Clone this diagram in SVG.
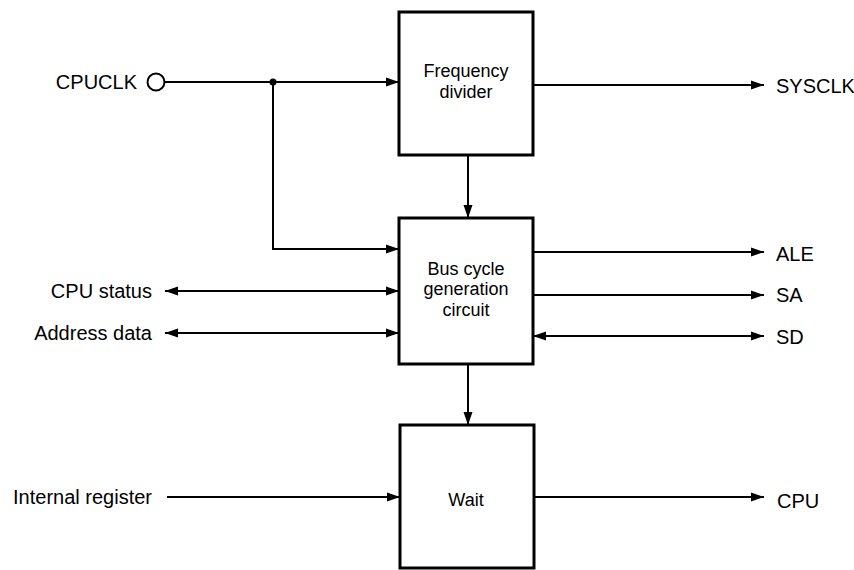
<svg xmlns="http://www.w3.org/2000/svg" width="854" height="570" viewBox="0 0 854 570">
<style>
.box{fill:#fff;stroke:#000;stroke-width:3}
.ln{fill:none;stroke:#000;stroke-width:2}
.a{marker-end:url(#ah)}
.b{marker-start:url(#ahs);marker-end:url(#ah)}
text{font-family:"Liberation Sans",Arial,sans-serif;font-size:20px;fill:#000}
.c{text-anchor:middle}
.s{font-size:18px}
.r{text-anchor:end}
</style>
<defs>
<marker id="ah" markerUnits="userSpaceOnUse" markerWidth="14" markerHeight="10" refX="13" refY="5" orient="auto">
<path d="M0,0.5 L13,5 L0,9.5 Z" fill="#000"/>
</marker>
<marker id="ahs" markerUnits="userSpaceOnUse" markerWidth="14" markerHeight="10" refX="0" refY="5" orient="auto">
<path d="M13,0.5 L0,5 L13,9.5 Z" fill="#000"/>
</marker>
</defs>
<rect width="854" height="570" fill="#fff"/>
<g id="connectors">
<path class="ln a" d="M164,82 H399"/>
<circle cx="273" cy="82" r="3.5" fill="#000"/>
<path class="ln a" d="M273,82 V249 H399"/>
<path class="ln a" d="M533,85 H764"/>
<path class="ln a" d="M468,155 V218"/>
<path class="ln a" d="M533,252 H764"/>
<path class="ln a" d="M533,295 H764"/>
<path class="ln b" d="M533,336 H764"/>
<path class="ln b" d="M165,291 H399"/>
<path class="ln b" d="M165,333 H399"/>
<path class="ln a" d="M468,364 V425"/>
<path class="ln a" d="M167,497 H400"/>
<path class="ln a" d="M534,497 H764"/>
</g>
<g id="cpuclk">
<circle cx="156" cy="82" r="8.5" fill="#fff" stroke="#000" stroke-width="2"/>
<text x="137" y="89" class="r">CPUCLK</text>
</g>
<g id="freq-divider">
<rect class="box" x="399" y="12" width="134" height="143"/>
<text x="466" y="77" class="c s">Frequency</text>
<text x="466" y="97.5" class="c s">divider</text>
</g>
<g id="bus-cycle">
<rect class="box" x="399" y="218" width="134" height="146"/>
<text x="466" y="275" class="c s">Bus cycle</text>
<text x="466" y="295.3" class="c s">generation</text>
<text x="466" y="315.6" class="c s">circuit</text>
</g>
<g id="wait">
<rect class="box" x="400" y="425" width="134" height="143"/>
<text x="466" y="506" class="c s">Wait</text>
</g>
<g id="labels">
<text x="776" y="93">SYSCLK</text>
<text x="776" y="261">ALE</text>
<text x="776" y="302">SA</text>
<text x="776" y="344">SD</text>
<text x="777" y="508">CPU</text>
<text x="152" y="298" class="r">CPU status</text>
<text x="152" y="340" class="r">Address data</text>
<text x="152" y="504" class="r">Internal register</text>
</g>
</svg>
